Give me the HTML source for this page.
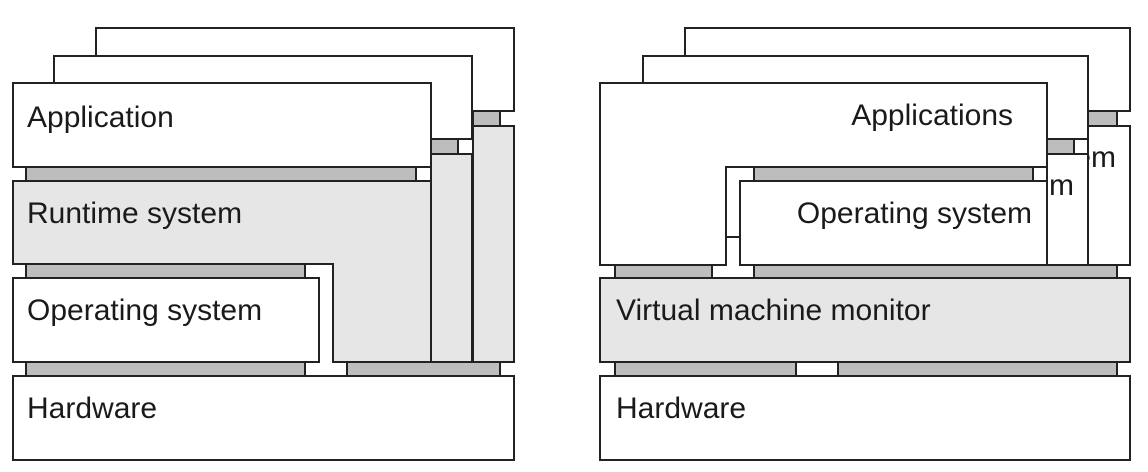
<!DOCTYPE html>
<html><head><meta charset="utf-8"><style>
html,body{margin:0;padding:0;background:#fff;}
svg{display:block;}
text{font-family:"Liberation Sans",Arial,sans-serif;font-size:30px;fill:#1a1a1a;}
</style></head><body>
<svg width="1148" height="472" viewBox="0 0 1148 472" xmlns="http://www.w3.org/2000/svg">
<defs>
<clipPath id="c3"><rect x="1089" y="127" width="40" height="137"/></clipPath>
<clipPath id="c2"><rect x="1048" y="155" width="39" height="109"/></clipPath>
</defs>
<g stroke="#222" stroke-width="2">
<rect x="96" y="28" width="418" height="83" fill="#fff"/>
<rect x="473" y="111" width="27" height="15" fill="#bdbdbd"/>
<rect x="473" y="126" width="41" height="236" fill="#e6e6e6"/>
<rect x="54" y="56" width="418" height="83" fill="#fff"/>
<rect x="431" y="139" width="27" height="15" fill="#bdbdbd"/>
<rect x="431" y="154" width="41" height="208" fill="#e6e6e6"/>
<rect x="13" y="83" width="418" height="84" fill="#fff"/>
<rect x="26" y="167" width="390" height="14" fill="#bdbdbd"/>
<polygon points="13,181 431,181 431,362 333,362 333,264 13,264" fill="#e6e6e6"/>
<rect x="26" y="264" width="279" height="14" fill="#bdbdbd"/>
<rect x="13" y="278" width="306" height="84" fill="#fff"/>
<rect x="26" y="362" width="279" height="14" fill="#bdbdbd"/>
<rect x="347" y="362" width="153" height="14" fill="#bdbdbd"/>
<rect x="13" y="376" width="501" height="84" fill="#fff"/>
<rect x="685" y="28" width="445" height="83" fill="#fff"/>
<rect x="1088" y="111" width="29" height="15" fill="#bdbdbd"/>
<rect x="1088" y="126" width="42" height="139" fill="#fff"/>
<rect x="643" y="56" width="445" height="83" fill="#fff"/>
<rect x="1047" y="139" width="27" height="15" fill="#bdbdbd"/>
<rect x="1047" y="154" width="41" height="111" fill="#fff"/>
<polygon points="600,83 1047,83 1047,167 726,167 726,265 600,265" fill="#fff"/>
<line x1="726" y1="237" x2="740" y2="237"/>
<rect x="754" y="167" width="279" height="14" fill="#bdbdbd"/>
<rect x="740" y="181" width="307" height="84" fill="#fff"/>
<rect x="615" y="265" width="97" height="13" fill="#bdbdbd"/>
<rect x="754" y="265" width="363" height="13" fill="#bdbdbd"/>
<rect x="600" y="278" width="530" height="84" fill="#e6e6e6"/>
<rect x="615" y="362" width="181" height="14" fill="#bdbdbd"/>
<rect x="838" y="362" width="279" height="14" fill="#bdbdbd"/>
<rect x="600" y="376" width="530" height="84" fill="#fff"/>
</g>
<text x="27" y="127">Application</text>
<text x="27" y="223">Runtime system</text>
<text x="27" y="320">Operating system</text>
<text x="27" y="418">Hardware</text>
<text x="1013" y="125" text-anchor="end">Applications</text>
<text x="1032" y="223" text-anchor="end">Operating system</text>
<text x="1116" y="167" text-anchor="end" clip-path="url(#c3)">Operating system</text>
<text x="1074" y="195" text-anchor="end" clip-path="url(#c2)">Operating system</text>
<text x="616" y="320">Virtual machine monitor</text>
<text x="616" y="418">Hardware</text>
</svg>
</body></html>
